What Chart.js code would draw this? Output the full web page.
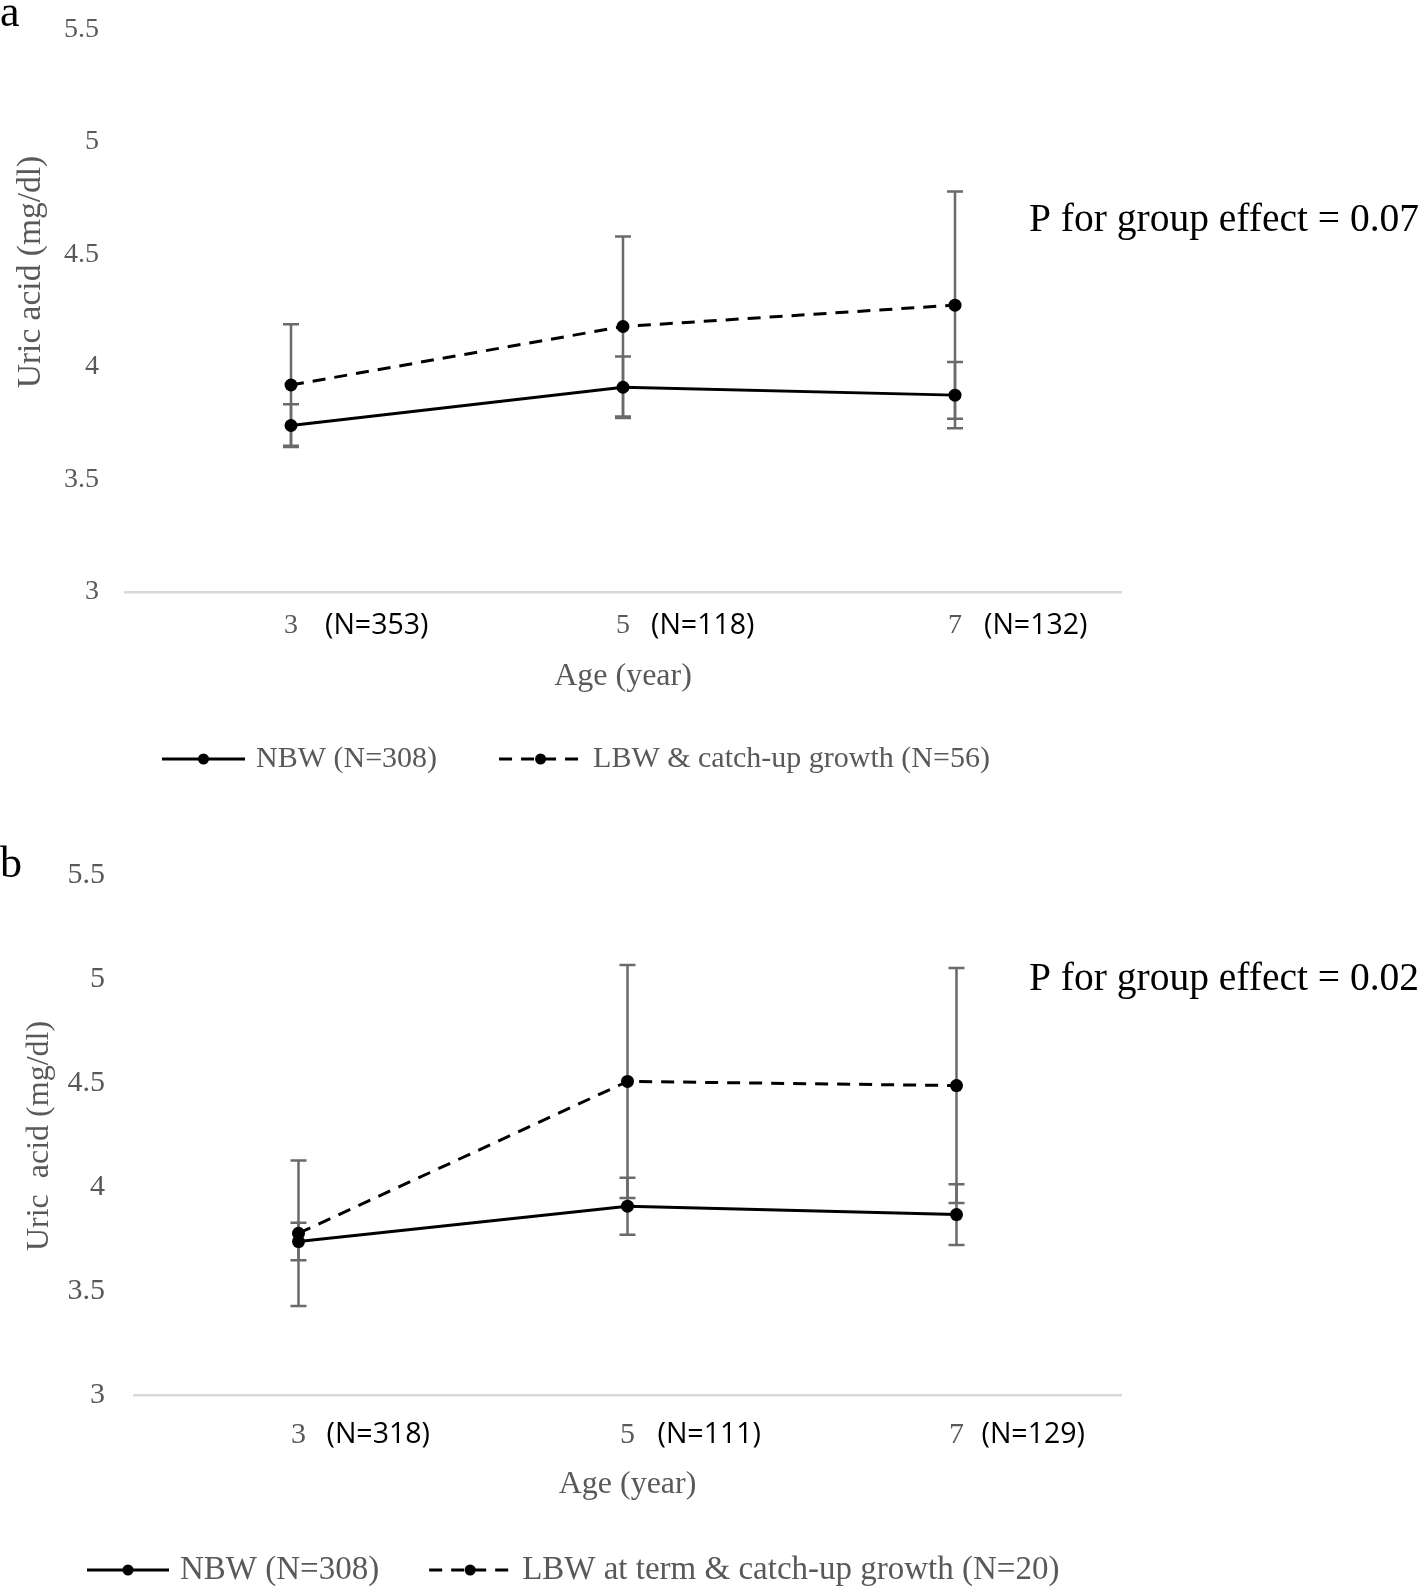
<!DOCTYPE html>
<html><head><meta charset="utf-8">
<script src="https://cdn.jsdelivr.net/npm/chart.js@4"></script>
<style>
html,body{margin:0;padding:0;background:#fff;}
body{width:1418px;height:1587px;position:relative;overflow:hidden;}
.panel{position:absolute;left:0;width:1418px;}
#pa{top:0;height:800px;}
#pb{top:830px;height:757px;}
canvas{display:block;}
</style></head><body>
<div class="panel" id="pa"><canvas id="ca"></canvas></div>
<div class="panel" id="pb"><canvas id="cb"></canvas></div>
<script>
// ---- data ----
const ages = ['3', '5', '7'];
const yTicks = [3, 3.5, 4, 4.5, 5, 5.5];

const seriesA = ['NBW (N=308)', 'LBW & catch-up growth (N=56)'];
const nLabelsA = ['(N=353)', '(N=118)', '(N=132)'];
const nbwMeanA = [3.74, 3.91, 3.875];
const nbwErrA  = [0.095, 0.137, 0.147];
const lbwMeanA = [3.92, 4.18, 4.275];
const lbwErrA  = [0.27, 0.40, 0.505];
const pTextA = 'P for group effect = 0.07';

const seriesB = ['NBW (N=308)', 'LBW at term & catch-up growth (N=20)'];
const nLabelsB = ['(N=318)', '(N=111)', '(N=129)'];
const nbwMeanB = [3.74, 3.91, 3.87];
const nbwErrB  = [0.09, 0.137, 0.146];
const lbwMeanB = [3.78, 4.51, 4.49];
const lbwErrB  = [0.35, 0.56, 0.565];
const pTextB = 'P for group effect = 0.02';

// ---- styling ----
const SERIF = "'Liberation Serif', 'Times New Roman', serif";
const GRAY = '#595959';

const decor = {
  id: 'decor',
  beforeDatasetsDraw(chart, args, o) {
    const ctx = chart.ctx, xs = chart.scales.x, ys = chart.scales.y;
    ctx.save();
    ctx.strokeStyle = o.errColor; ctx.lineWidth = o.errWidth; ctx.setLineDash([]);
    chart.data.datasets.forEach(ds => {
      ds.data.forEach((v, i) => {
        const e = ds.errors[i];
        const px = xs.getPixelForValue(i);
        const t = ys.getPixelForValue(v + e), b = ys.getPixelForValue(v - e);
        ctx.beginPath();
        ctx.moveTo(px, t); ctx.lineTo(px, b);
        ctx.moveTo(px - o.cap, t); ctx.lineTo(px + o.cap, t);
        ctx.moveTo(px - o.cap, b); ctx.lineTo(px + o.cap, b);
        ctx.stroke();
      });
    });
    ctx.restore();
  },
  afterDraw(chart, args, o) {
    const ctx = chart.ctx, xs = chart.scales.x, ca = chart.chartArea;
    ctx.save();
    // panel letter
    ctx.fillStyle = '#000'; ctx.font = '44px ' + SERIF;
    ctx.textAlign = 'left'; ctx.textBaseline = 'alphabetic';
    ctx.fillText(o.letter, 0, o.letterY);
    // y title
    ctx.save();
    ctx.translate(o.yTitleX, o.yTitleY); ctx.rotate(-Math.PI / 2);
    ctx.fillStyle = GRAY; ctx.font = o.yTitleSize + 'px ' + SERIF;
    ctx.textAlign = 'center'; ctx.textBaseline = 'middle';
    ctx.fillText(o.yTitle, 0, 0);
    ctx.restore();
    // x title
    ctx.fillStyle = GRAY; ctx.font = '32px ' + SERIF;
    ctx.textAlign = 'center'; ctx.textBaseline = 'middle';
    ctx.fillText(o.xTitle, (ca.left + ca.right) / 2, o.xTitleY);
    // N labels
    ctx.fillStyle = '#000'; ctx.font = "28.5px 'Open Sans', sans-serif";
    ctx.textAlign = 'left';
    o.nLabels.forEach((t, i) => {
      ctx.fillText(t, xs.getPixelForValue(i) + o.nOffsets[i], o.nY);
    });
    // P text
    ctx.fillStyle = '#000'; ctx.font = '39.5px ' + SERIF;
    ctx.fillText(o.pText, o.pX, o.pY);
    // legend
    ctx.font = o.legendSize + 'px ' + SERIF;
    let cx = o.legendLeft;
    chart.data.datasets.forEach(ds => {
      const w = ctx.measureText(ds.label).width;
      ctx.strokeStyle = ds.borderColor; ctx.lineWidth = ds.borderWidth;
      ctx.setLineDash(ds.borderDash || []);
      ctx.beginPath(); ctx.moveTo(cx, o.legendY); ctx.lineTo(cx + o.sampleW, o.legendY); ctx.stroke();
      ctx.setLineDash([]);
      ctx.fillStyle = ds.pointBackgroundColor;
      ctx.beginPath(); ctx.arc(cx + o.sampleW / 2, o.legendY, 5.5, 0, Math.PI * 2); ctx.fill();
      ctx.fillStyle = GRAY; ctx.textAlign = 'left'; ctx.textBaseline = 'middle';
      ctx.fillText(ds.label, cx + o.sampleW + o.sampleGap, o.legendY);
      cx += o.sampleW + o.sampleGap + w + o.itemGap;
    });
    ctx.restore();
  }
};

function makeDataset(label, data, errors, dash) {
  return {
    label, data, errors,
    borderColor: '#000', borderWidth: 3, borderDash: dash,
    pointRadius: 6.5, pointHoverRadius: 6.5, pointBackgroundColor: '#000',
    pointBorderWidth: 0, tension: 0, fill: false
  };
}

function makeChart(id, cfg) {
  return new Chart(document.getElementById(id), {
    type: 'line',
    data: {
      labels: ages,
      datasets: [
        makeDataset(cfg.series[0], cfg.nbwMean, cfg.nbwErr, []),
        makeDataset(cfg.series[1], cfg.lbwMean, cfg.lbwErr, [13, 9])
      ]
    },
    plugins: [decor],
    options: {
      responsive: true, maintainAspectRatio: false, animation: false,
      devicePixelRatio: 1,
      layout: { padding: { left: 0, right: 297, top: cfg.padTop, bottom: 0 } },
      scales: {
        x: {
          type: 'category', offset: true,
          grid: { display: false, drawTicks: false },
          border: { display: true, color: '#d9d9d9', width: 2.5 },
          ticks: { color: GRAY, font: { family: SERIF, size: cfg.tickSize }, padding: cfg.xTickPad, maxRotation: 0 },
          afterFit: s => { s.height = cfg.xHeight; }
        },
        y: {
          min: 3, max: 5.5,
          grid: { display: false, drawTicks: true, tickLength: cfg.yTickPad },
          border: { display: false },
          ticks: { color: GRAY, font: { family: SERIF, size: cfg.tickSize }, padding: 0,
                   callback: v => String(v) },
          afterBuildTicks: s => { s.ticks = yTicks.map(v => ({ value: v })); },
          afterFit: s => { s.width = cfg.yWidth; }
        }
      },
      plugins: {
        legend: { display: false },
        tooltip: { enabled: false },
        decor: {
          errColor: '#6a6a6a', errWidth: 2.5, cap: 8,
          letter: cfg.letter, letterY: cfg.letterY,
          yTitle: cfg.yTitle, yTitleX: cfg.yTitleX, yTitleY: cfg.yTitleY, yTitleSize: cfg.yTitleSize,
          xTitle: 'Age (year)', xTitleY: cfg.xTitleY,
          nLabels: cfg.nLabels, nOffsets: cfg.nOffsets, nY: cfg.nY,
          pText: cfg.pText, pX: 1029, pY: cfg.pY,
          legendY: cfg.legendY, legendLeft: cfg.legendLeft, legendSize: cfg.legendSize,
          sampleW: cfg.sampleW, sampleGap: 11, itemGap: cfg.itemGap
        }
      }
    }
  });
}

makeChart('ca', {
  series: seriesA, nbwMean: nbwMeanA, nbwErr: nbwErrA, lbwMean: lbwMeanA, lbwErr: lbwErrA,
  padTop: 29.5, xHeight: 208, yWidth: 125, yTickPad: 26, xTickPad: 17, tickSize: 28,
  letter: 'a', letterY: 26,
  yTitle: 'Uric acid (mg/dl)', yTitleX: 31, yTitleY: 272, yTitleSize: 33.5,
  xTitleY: 677, nLabels: nLabelsA, nOffsets: [34, 28, 29], nY: 626,
  pText: pTextA, pY: 221, legendY: 759, legendLeft: 162, legendSize: 30,
  sampleW: 83, itemGap: 62
});

makeChart('cb', {
  series: seriesB, nbwMean: nbwMeanB, nbwErr: nbwErrB, lbwMean: lbwMeanB, lbwErr: lbwErrB,
  padTop: 45.5, xHeight: 191.5, yWidth: 134, yTickPad: 29, xTickPad: 22, tickSize: 30,
  letter: 'b', letterY: 47,
  yTitle: 'Uric  acid (mg/dl)', yTitleX: 40, yTitleY: 306, yTitleSize: 32,
  xTitleY: 655, nLabels: nLabelsB, nOffsets: [28, 30, 25], nY: 605,
  pText: pTextB, pY: 150, legendY: 740, legendLeft: 87, legendSize: 33,
  sampleW: 82, itemGap: 50
});
</script>
</body></html>
